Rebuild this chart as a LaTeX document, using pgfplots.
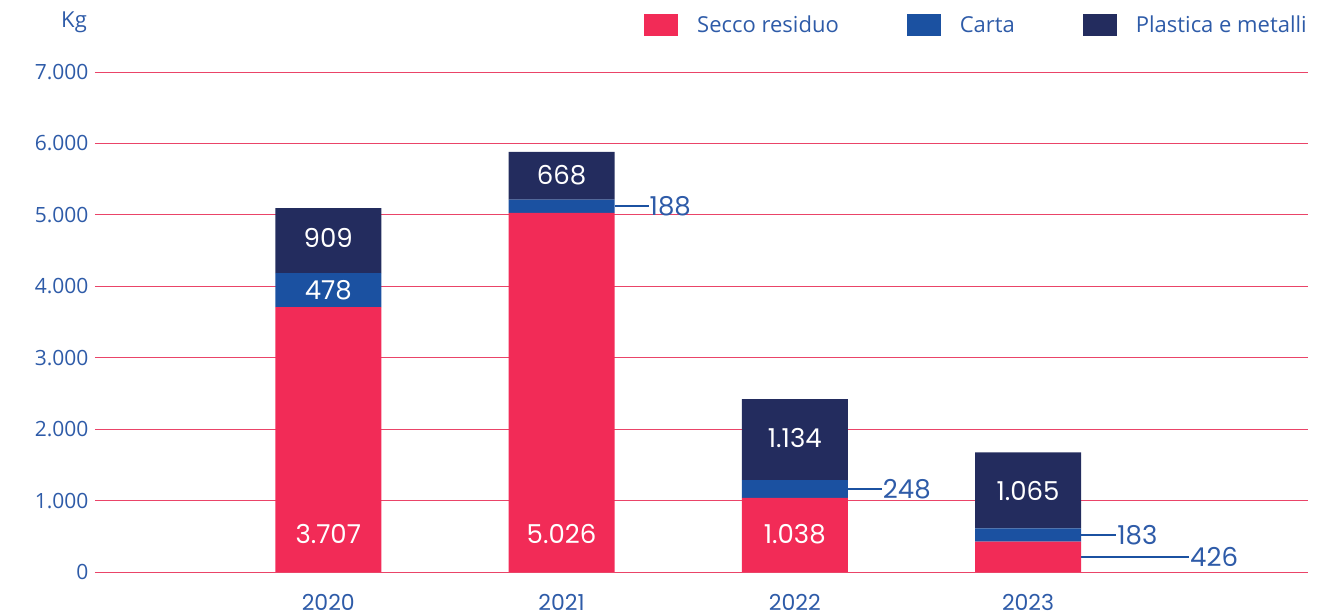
\documentclass[border=0pt]{standalone}
\usepackage{fontspec}
\setmainfont{Open Sans}
\newfontfamily\pop{Poppins}
\usepackage{pgfplots}
\pgfplotsset{compat=1.18}
\definecolor{cRed}{HTML}{F22B57}
\definecolor{cBlue}{HTML}{1B51A1}
\definecolor{cNavy}{HTML}{232C5E}
\definecolor{cText}{HTML}{2E5BA8}
\definecolor{cGrid}{HTML}{EA4468}
\tikzset{inlab/.style={text=white, font=\pop\fontsize{26}{30}\selectfont},
  outlab/.style={text=cText, font=\pop\fontsize{26}{30}\selectfont, anchor=west, inner sep=1pt},
  lead/.style={draw=cBlue, line width=1.8pt}}
\begin{document}
\begin{tikzpicture}
\path[use as bounding box] (0pt,0pt) rectangle (1342pt,616pt);
\begin{axis}[
  at={(95pt,44pt)}, anchor=south west,
  scale only axis, width=1213pt, height=500pt,
  xmin=-1, xmax=4.2, ymin=0, ymax=7000,
  ybar stacked, bar width=106pt,
  xtick={0,1,2,3}, xticklabels={2020,2021,2022,2023},
  ytick={0,1000,2000,3000,4000,5000,6000,7000},
  yticklabels={0,1.000,2.000,3.000,4.000,5.000,6.000,7.000},
  ymajorgrids, grid style={cGrid, line width=0.8pt},
  axis line style={draw=none},
  major tick length=0pt,
  tick label style={font=\fontsize{21}{25}\selectfont, text=cText},
  xticklabel style={anchor=base, yshift=-38pt, inner sep=0pt, text depth=0pt, font=\pop\fontsize{22}{26}\selectfont},
  yticklabel style={anchor=east, xshift=-3pt},
  legend columns=3,
  legend style={draw=none, fill=none, inner sep=0pt, at={(1,1)}, anchor=east, yshift=47pt, xshift=1pt,
    font=\fontsize{22}{26}\selectfont, text=cText,
    /tikz/every even column/.append style={column sep=66pt}},
  legend image code/.code={\path[use as bounding box, fill=none, draw=none] (0pt,-11pt) rectangle (51pt,11pt);
    \fill[#1, draw=none] (0pt,-11pt) rectangle (34pt,11pt);},
  legend cell align=left,
]
\addplot[fill=cRed, draw=none] coordinates {(0,3707) (1,5026) (2,1038) (3,426)};
\addlegendentry{Secco residuo}
\addplot[fill=cBlue, draw=none] coordinates {(0,478) (1,188) (2,248) (3,183)};
\addlegendentry{Carta}
\addplot[fill=cNavy, draw=none] coordinates {(0,909) (1,668) (2,1134) (3,1065)};
\addlegendentry{Plastica e metalli}

\coordinate (a1) at (axis cs:0,530);
\coordinate (a2) at (axis cs:0,3946);
\coordinate (a3) at (axis cs:0,4670);
\coordinate (b1) at (axis cs:1,530);
\coordinate (b3) at (axis cs:1,5560);
\coordinate (c1) at (axis cs:2,530);
\coordinate (c3) at (axis cs:2,1870);
\coordinate (d3) at (axis cs:3,1141);

\draw[lead] (axis cs:1.2275,5120) -- (axis cs:1.373,5120);
\node[outlab] at (axis cs:1.373,5120) {188};
\draw[lead] (axis cs:2.2275,1162) -- (axis cs:2.373,1162);
\node[outlab] at (axis cs:2.373,1162) {248};
\draw[lead] (axis cs:3.2275,517) -- (axis cs:3.378,517);
\node[outlab] at (axis cs:3.378,517) {183};
\draw[lead] (axis cs:3.2275,213) -- (axis cs:3.69,213);
\node[outlab] at (axis cs:3.69,213) {426};
\end{axis}
\node[inlab] at (a1) {3.707};
\node[inlab] at (a2) {478};
\node[inlab] at (a3) {909};
\node[inlab] at (b1) {5.026};
\node[inlab] at (b3) {668};
\node[inlab] at (c1) {1.038};
\node[inlab] at (c3) {1.134};
\node[inlab] at (d3) {1.065};
\node[anchor=east, text=cText, font=\fontsize{22}{26}\selectfont, inner sep=0pt] at (87pt,594pt) {Kg};
\end{tikzpicture}
\end{document}
